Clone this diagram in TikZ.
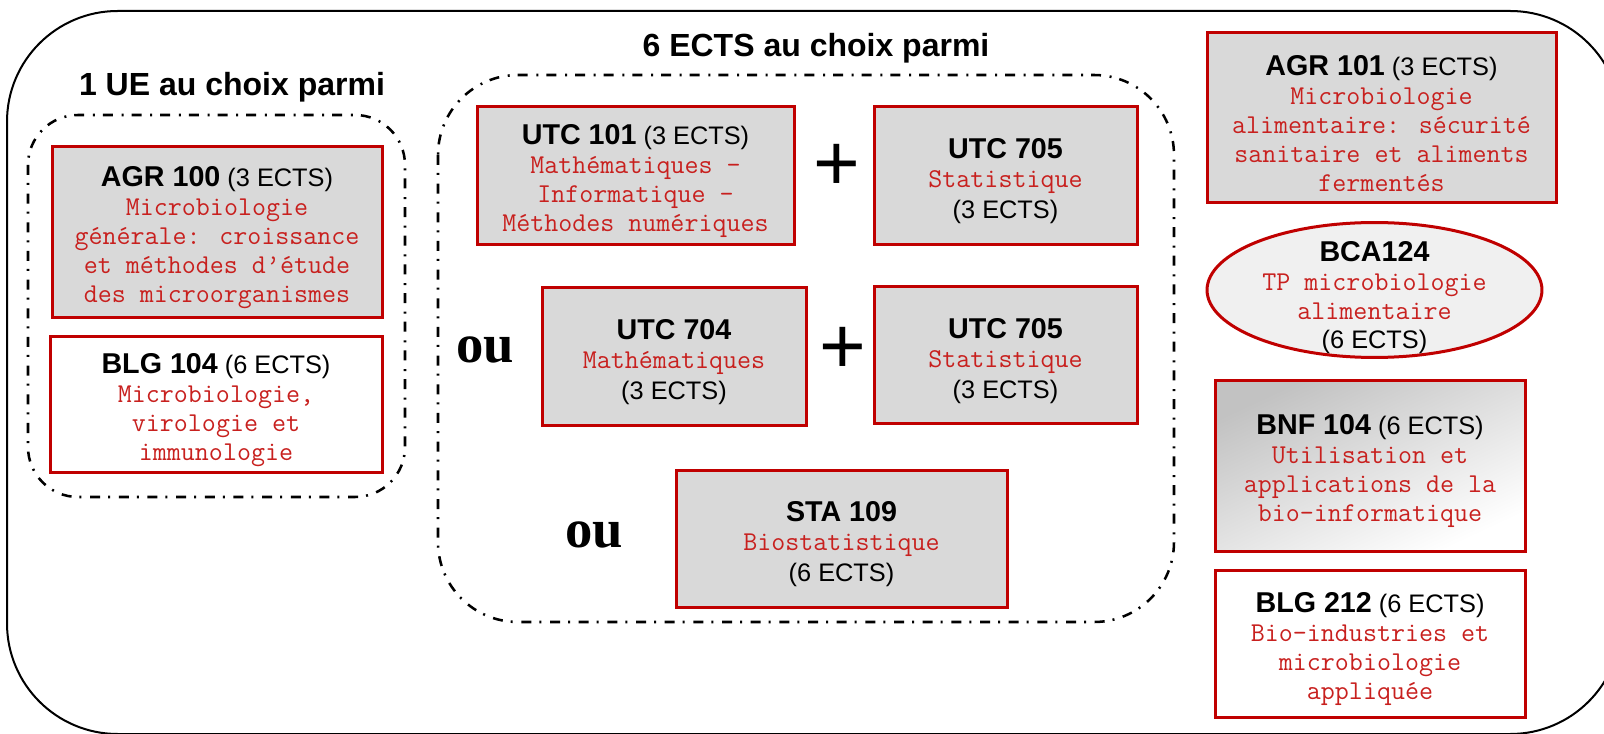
\documentclass[tikz,border=0pt]{standalone}
\usepackage{fontspec}
\setmainfont{Liberation Sans}
\newfontfamily\serf{Liberation Serif}
\newcommand\monof{\ttfamily}
\definecolor{boxred}{HTML}{C00000}
\definecolor{txtred}{HTML}{C8201E}
\definecolor{boxgray}{HTML}{D9D9D9}
\definecolor{ellgray}{HTML}{F0F0F0}
\definecolor{shadegray}{HTML}{C2C2C2}
\definecolor{shademid}{HTML}{E2E2E2}
\newcommand\code[1]{{\rule{0pt}{23pt}\rmfamily\bfseries\color{black}\fontsize{21.5}{21.75}\selectfont #1}}
\newcommand\ects[1]{{\rmfamily\mdseries\color{black}\fontsize{19}{21.75}\selectfont #1}}
\tikzset{
  course/.style={draw=boxred, line width=2.25pt, inner sep=0pt, align=center,
    font=\monof\fontsize{20.4}{21.75}\selectfont, text=txtred},
  grayc/.style={course, fill=boxgray},
  whitec/.style={course, fill=white},
  groupbox/.style={line width=1.9pt, dash pattern=on 7.5pt off 6pt on 1.5pt off 6.5pt},
  outerbox/.style={line width=1.5pt},
  grouptitle/.style={font=\rmfamily\bfseries\fontsize{24}{28}\selectfont, inner sep=0pt},
  orlabel/.style={font=\serf\bfseries\fontsize{41}{42}\selectfont, inner sep=0pt, anchor=base},
  plussign/.style={font=\rmfamily\fontsize{60}{60}\selectfont, inner sep=0pt},
}
\begin{document}
\begin{tikzpicture}[x=0.75pt,y=-0.75pt]
\useasboundingbox (0,0) rectangle (1604,734);
% outer frame
\draw[outerbox, rounded corners=83pt] (7,11) rectangle (1621,734);
% group boxes
\draw[groupbox, rounded corners=37.5pt] (28,115) rectangle (405,497);
\draw[groupbox, rounded corners=60pt] (438,75) rectangle (1174,622);
% titles
\node[grouptitle] (t1) at (232,87) {1 UE au choix parmi};
\node[grouptitle] (t2) at (816,48) {6 ECTS au choix parmi};
% left group
\node[grayc, minimum width=247.5pt, minimum height=128.25pt] (agr100) at (217,232.5)
  {\code{AGR 100}\ects{ (3 ECTS)}\\Microbiologie\\générale: croissance\\et méthodes d’étude\\des microorganismes};
\node[whitec, minimum width=249pt, minimum height=101.25pt] (blg104) at (216,404.5)
  {\code{BLG 104}\ects{ (6 ECTS)}\\Microbiologie,\\virologie et\\immunologie};
% middle group
\node[grayc, minimum width=237.75pt, minimum height=103.5pt] (utc101) at (635.5,176)
  {\code{UTC 101}\ects{ (3 ECTS)}\\Mathématiques –\\Informatique –\\Méthodes numériques};
\node[plussign] (plus1) at (837,167) {+};
\node[grayc, minimum width=197.25pt, minimum height=103.5pt] (utc705a) at (1005.5,176)
  {\code{UTC 705}\\Statistique\\[1.5pt]\ects{(3 ECTS)}};
\node[orlabel] (ou1) at (485,363) {ou};
\node[grayc, minimum width=198pt, minimum height=103.5pt] (utc704) at (674,357)
  {\code{UTC 704}\\Mathématiques\\[1.5pt]\ects{(3 ECTS)}};
\node[plussign] (plus2) at (843,350) {+};
\node[grayc, minimum width=197.25pt, minimum height=102.75pt] (utc705b) at (1005.5,355.5)
  {\code{UTC 705}\\Statistique\\[1.5pt]\ects{(3 ECTS)}};
\node[orlabel] (ou2) at (594,547) {ou};
\node[grayc, minimum width=248.25pt, minimum height=102.75pt] (sta109) at (841.5,538.5)
  {\code{STA 109}\\Biostatistique\\[1.5pt]\ects{(6 ECTS)}};
% right column
\node[grayc, minimum width=261.75pt, minimum height=127.5pt] (agr101) at (1381.5,118)
  {\code{AGR 101}\ects{ (3 ECTS)}\\Microbiologie\\alimentaire: sécurité\\sanitaire et aliments\\fermentés};
\draw[draw=boxred, line width=2.25pt, fill=ellgray] (1374.5,290) ellipse [x radius=125.6pt, y radius=50.6pt];
\node[course, draw=none] (bca124) at (1374.5,292)
  {\code{BCA124}\\TP microbiologie\\alimentaire\\\ects{(6 ECTS)}};
\node[course, top color=shadegray, middle color=shademid, bottom color=white, shading angle=25,
  minimum width=232.5pt, minimum height=127.5pt] (bnf104) at (1370,466)
  {\code{BNF 104}\ects{ (6 ECTS)}\\Utilisation et\\applications de la\\bio-informatique};
\node[whitec, minimum width=232.5pt, minimum height=110.25pt] (blg212) at (1370,643.5)
  {\code{BLG 212}\ects{ (6 ECTS)}\\Bio-industries et\\microbiologie\\appliquée};
\end{tikzpicture}
\end{document}
